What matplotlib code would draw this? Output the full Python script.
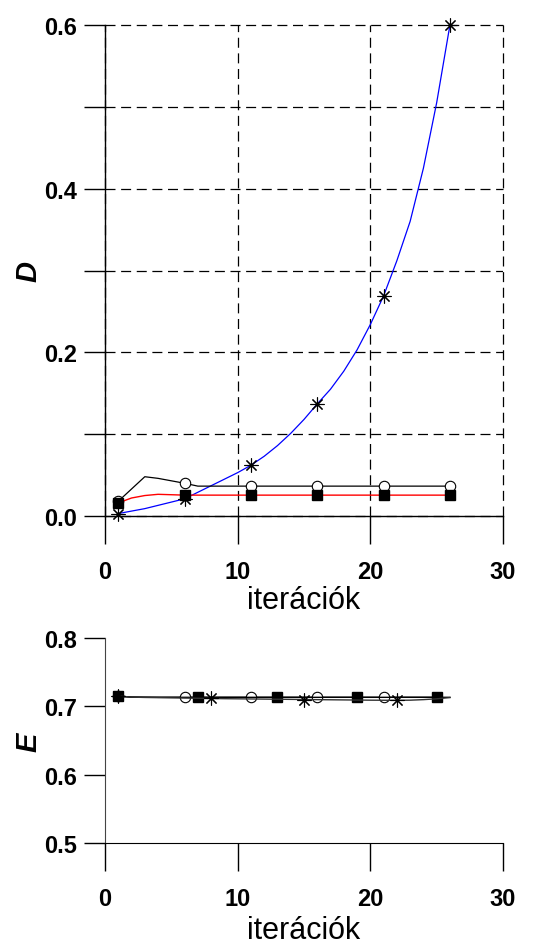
import numpy as np
import matplotlib
matplotlib.use("Agg")
import matplotlib.pyplot as plt

plt.rcParams['font.family'] = ['Liberation Sans', 'DejaVu Sans']

# iteration numbers
iters = list(range(1, 27))

# upper panel: D per iteration
d_star = [0.003, 0.006, 0.009, 0.013, 0.017, 0.021, 0.029, 0.037, 0.045, 0.053,
          0.062, 0.073, 0.086, 0.101, 0.118, 0.137, 0.155, 0.177, 0.203, 0.234,
          0.269, 0.312, 0.360, 0.425, 0.505, 0.600]
d_circle = [0.018, 0.033, 0.048, 0.046, 0.043, 0.040, 0.0365, 0.0365, 0.0365, 0.0365,
            0.0365, 0.0365, 0.0365, 0.0365, 0.0365, 0.0365, 0.0365, 0.0365, 0.0365, 0.0365,
            0.0365, 0.0365, 0.0365, 0.0365, 0.0365, 0.0365]
d_square = [0.016, 0.022, 0.025, 0.0265, 0.026, 0.0255, 0.0255, 0.0255, 0.0255, 0.0255,
            0.0255, 0.0255, 0.0255, 0.0255, 0.0255, 0.0255, 0.0255, 0.0255, 0.0255, 0.0255,
            0.0255, 0.0255, 0.0255, 0.0255, 0.0255, 0.0255]

# lower panel: E per iteration
e_circle = [0.715, 0.7135, 0.7133, 0.7132, 0.7132, 0.7132, 0.7132, 0.7132, 0.7132, 0.7132,
            0.7132, 0.7132, 0.7132, 0.7132, 0.7132, 0.7132, 0.7132, 0.7132, 0.7132, 0.7132,
            0.7132, 0.7132, 0.7132, 0.7132, 0.7132]
e_square = [0.715, 0.7135, 0.7133, 0.7132, 0.7132, 0.7132, 0.7132, 0.7132, 0.7132, 0.7132,
            0.7132, 0.7132, 0.7132, 0.7132, 0.7132, 0.7132, 0.7132, 0.7132, 0.7132, 0.7132,
            0.7132, 0.7132, 0.7132, 0.7132, 0.7132, 0.7132]
e_star = [0.715, 0.7135, 0.713, 0.7127, 0.7124, 0.7121, 0.7118, 0.7115, 0.7112, 0.711,
          0.7108, 0.7106, 0.7104, 0.7102, 0.710, 0.7098, 0.7096, 0.7094, 0.7092, 0.709,
          0.7089, 0.7088, 0.709, 0.7098, 0.711, 0.7128]

d_ticks = [0.0, 0.2, 0.4, 0.6]
d_minor = [0.1, 0.3, 0.5]
e_ticks = [0.5, 0.6, 0.7, 0.8]
x_ticks = [0, 10, 20, 30]

star = (8, 2, 0)


def style_axes(ax, xlab_y):
    ax.spines['top'].set_visible(False)
    ax.spines['right'].set_visible(False)
    ax.set_xlim(0, 30)
    ax.set_xticks(x_ticks)
    ax.tick_params(axis='y', which='both', direction='out', length=15, width=1,
                   pad=5, labelsize=17)
    ax.tick_params(axis='x', direction='out', length=20, width=1, pad=12,
                   labelsize=17)
    plt.setp(ax.get_xticklabels(), fontweight='bold')
    plt.setp(ax.get_yticklabels(), fontweight='bold')
    ax.set_xlabel('iterációk', fontsize=22)
    ax.xaxis.set_label_coords(0.5, xlab_y)


fig = plt.figure(figsize=(5.36, 9.45), dpi=100)

# ---- upper panel ----
ax1 = fig.add_axes([105 / 536, 1 - 517 / 945, 398 / 536, 491 / 945])
ax1.set_ylim(0, 0.6)
ax1.set_yticks(d_ticks)
ax1.set_yticks(d_minor, minor=True)
ax1.yaxis.set_major_formatter(matplotlib.ticker.FormatStrFormatter('%.1f'))
ax1.grid(True, which='both', color='black', linestyle=(0, (8, 4.5)), linewidth=0.9)
ax1.set_axisbelow(True)
for gl in ax1.get_xgridlines() + ax1.get_ygridlines():
    gl.set_clip_on(False)

ax1.plot(iters, d_star, color='#0000ff', lw=0.9, marker=star, ms=10, mec='black',
         mew=0.8, markevery=5, clip_on=False, zorder=3)
ax1.plot(iters, d_circle, color='black', lw=0.9, marker='o', ms=7.5, mfc='white',
         mec='black', mew=0.8, markevery=5, clip_on=False, zorder=4)
ax1.plot(iters, d_square, color='#ff0000', lw=1.0, marker='s', ms=7, mfc='black',
         mec='black', markevery=5, clip_on=False, zorder=5)
style_axes(ax1, -0.14)
for s in ['left', 'bottom']:
    ax1.spines[s].set_linewidth(1)
    ax1.spines[s].set_zorder(6)
fig.text(28 / 536, 1 - 271 / 945, 'D', rotation=90, ha='center', va='center',
         fontsize=21, fontweight='bold', fontstyle='italic')

# ---- lower panel ----
ax2 = fig.add_axes([105 / 536, 1 - 844 / 945, 398 / 536, 205 / 945])
ax2.set_ylim(0.5, 0.8)
ax2.set_yticks(e_ticks)
ax2.yaxis.set_major_formatter(matplotlib.ticker.FormatStrFormatter('%.1f'))

ax2.plot(iters[:len(e_circle)], e_circle, color='black', lw=1.0, marker='o', ms=7.5,
         mfc='white', mec='black', mew=0.8, markevery=5, clip_on=False, zorder=3)
ax2.plot(iters, e_square, color='black', lw=1.0, marker='s', ms=7, mfc='black',
         mec='black', markevery=6, clip_on=False, zorder=4)
ax2.plot(iters, e_star, color='#333333', lw=1.0, marker=star, ms=10, mec='black',
         mew=0.8, markevery=7, clip_on=False, zorder=5)
style_axes(ax2, -0.35)
ax2.spines['left'].set_color('#444444')
fig.text(28 / 536, 1 - 742 / 945, 'E', rotation=90, ha='center', va='center',
         fontsize=21, fontweight='bold', fontstyle='italic')

fig.savefig('out.png', dpi=100)
